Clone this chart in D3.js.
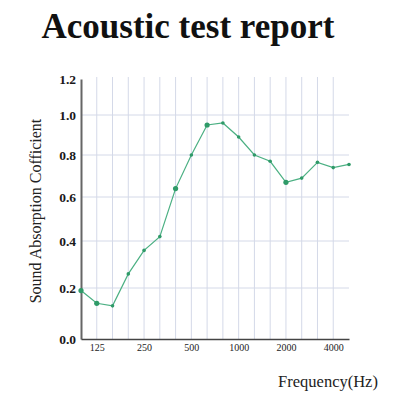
<!DOCTYPE html>
<html>
<head>
<meta charset="utf-8">
<script src="https://cdn.jsdelivr.net/npm/d3@7"></script>
<style>
  body { margin: 0; background: #fff; }
  svg { display: block; }
  text { font-family: "Liberation Serif", "DejaVu Serif", serif; }
</style>
</head>
<body>
<div id="chart"></div>
<script>
// 1/3 octave bands and measured absorption
const bands = [100,125,160,200,250,315,400,500,630,800,1000,1250,1600,2000,2500,3150,4000,5000];
const alpha = [0.19,0.14,0.13,0.26,0.36,0.42,0.64,0.80,0.95,0.96,0.89,0.80,0.77,0.67,0.69,0.765,0.74,0.755];
const bigDots = [100,125,400,630,2000];
const xTicks = [125,250,500,1000,2000,4000];
const yTicks = [0,0.2,0.4,0.6,0.8,1.0,1.2];

const w = 400, h = 400;
const padL = 81, padR = 349, padB = 339, padT = 79;

const svg = d3.select("#chart").append("svg")
  .attr("width", w)
  .attr("height", h);

const x = d3.scalePoint()
  .domain(bands)
  .range([padL, padR]);

// the scan is slightly stretched near the bottom, so the y axis is piecewise
const y = d3.scaleLinear()
  .domain(yTicks)
  .range([padB, 288, 241, 197, 155, 115, padT]);

// vertical grid
svg.append("g")
  .selectAll("line")
  .data(bands.slice(1, -1))
  .enter()
  .append("line")
  .attr("x1", d => x(d)).attr("x2", d => x(d))
  .attr("y1", padT - 2).attr("y2", padB)
  .attr("stroke", "#d4d9e8")
  .attr("stroke-width", 1);

// horizontal grid
svg.append("g")
  .selectAll("line")
  .data(yTicks.slice(1, -1))
  .enter()
  .append("line")
  .attr("x1", padL).attr("x2", padR)
  .attr("y1", d => y(d)).attr("y2", d => y(d))
  .attr("stroke", "#d4d9e8")
  .attr("stroke-width", 1);

// axes
const yAxis = d3.axisLeft(y).tickValues(yTicks).tickSize(0).tickPadding(5).tickFormat(d3.format(".1f"));
const gy = svg.append("g")
  .attr("transform", "translate(" + padL + ",0)")
  .call(yAxis);
gy.select(".domain").attr("stroke", "#666").attr("stroke-width", 2);
gy.selectAll("text").attr("font-size", 13.5).attr("fill", "#1a1a1a").attr("font-weight", 600);

const xAxis = d3.axisBottom(x).tickValues(xTicks).tickSize(0).tickPadding(5);
const gx = svg.append("g")
  .attr("transform", "translate(0," + padB + ")")
  .call(xAxis);
gx.select(".domain").attr("stroke", "#444").attr("stroke-width", 1.5);
gx.selectAll("text").attr("font-size", 10).attr("fill", "#222");

// curve
const data = bands.map((b, i) => ({f: b, a: alpha[i]}));
const line = d3.line()
  .x(d => x(d.f))
  .y(d => y(d.a));

svg.append("path")
  .datum(data)
  .attr("fill", "none")
  .attr("stroke", "#4bb083")
  .attr("stroke-width", 1.2)
  .attr("d", line);

svg.selectAll("circle")
  .data(data)
  .enter()
  .append("circle")
  .attr("cx", d => x(d.f))
  .attr("cy", d => y(d.a))
  .attr("r", d => bigDots.includes(d.f) ? 2.6 : 1.8)
  .attr("fill", "#2f9a68");

// titles
svg.append("text")
  .attr("x", 188).attr("y", 38)
  .attr("text-anchor", "middle")
  .attr("font-size", 35)
  .attr("font-weight", "bold")
  .attr("fill", "#111")
  .text("Acoustic test report");

svg.append("g")
  .attr("transform", "translate(41," + 211 + ")")
  .append("text")
  .attr("transform", "rotate(-90)")
  .attr("text-anchor", "middle")
  .attr("font-size", 16)
  .attr("fill", "#222")
  .text("Sound Absorption Cofficient");

svg.append("text")
  .attr("x", 328).attr("y", 387)
  .attr("text-anchor", "middle")
  .attr("font-size", 16.5)
  .attr("fill", "#222")
  .text("Frequency(Hz)");
</script>
</body>
</html>
